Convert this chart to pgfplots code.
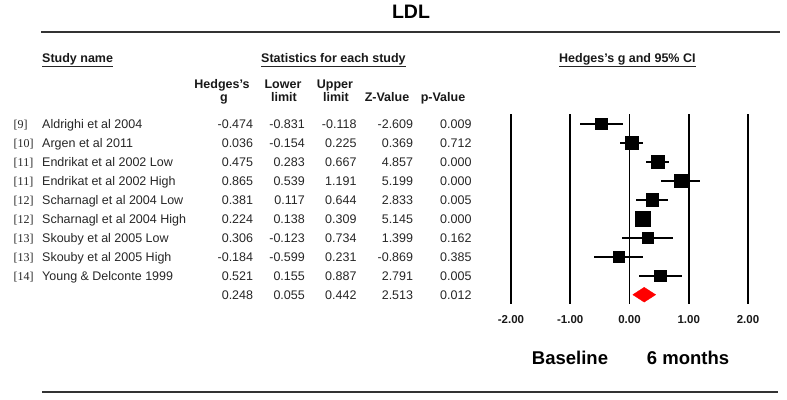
\documentclass[border=0pt]{standalone}
\usepackage{fontspec}
\setmainfont{Liberation Sans}
\newfontfamily\serif{Liberation Serif}
\usepackage{pgfplots}
\usepackage{pgfplotstable}
\pgfplotsset{compat=1.18}

% row  Hedges's g  lower  upper  half-side of the square (weight)
\pgfplotstableread{
row g lo hi sz
1 -0.474 -0.831 -0.118 5.8
2 0.036 -0.154 0.225 6.6
3 0.475 0.283 0.667 6.8
4 0.865 0.539 1.191 6.4
5 0.381 0.117 0.644 6.4
6 0.224 0.138 0.309 7.4
7 0.306 -0.123 0.734 5.8
8 -0.184 -0.599 0.231 5.8
9 0.521 0.155 0.887 5.8
}\studies

\tikzset{
  txt/.style={inner sep=0pt, font=\fontsize{12.5}{15}\selectfont, text=black!85},
  ref/.style={inner sep=0pt, anchor=base west, font=\serif\fontsize{12}{14}\selectfont, text=black!85},
  hdr/.style={inner sep=0pt, font=\bfseries\fontsize{12.5}{15}\selectfont, text=black!90},
}
\newcommand\trow[8]{%
  \pgfmathsetmacro\yb{399-(128.2+18.99*(#1-1))}%
  \node[ref] at (13.5,\yb) {#2};
  \node[txt, anchor=base west] at (42,\yb) {#3};
  \node[txt, anchor=base east] at (253.3,\yb) {#4};
  \node[txt, anchor=base east] at (305,\yb) {#5};
  \node[txt, anchor=base east] at (356.7,\yb) {#6};
  \node[txt, anchor=base east] at (413.3,\yb) {#7};
  \node[txt, anchor=base east] at (471.7,\yb) {#8};
}

\begin{document}
\begin{tikzpicture}[x=1pt,y=1pt]
\path[use as bounding box] (0,0) rectangle (787,399);

\begin{axis}[
  at={(511pt,94.8pt)}, anchor=south west,
  scale only axis, width=237pt, height=189.9pt,
  xmin=-2, xmax=2, ymin=0.5, ymax=10.5, y dir=reverse,
  clip=false,
  axis line style={draw=none},
  tick style={draw=none},
  major tick length=0pt,
  xtick={-2,-1,0,1,2},
  xticklabels={-2.00,-1.00,0.00,1.00,2.00},
  ytick=\empty,
  xmajorgrids,
  grid style={black, line width=1.8pt},
  xticklabel style={anchor=base, yshift=-19.1pt, inner sep=0pt,
    font=\bfseries\fontsize{11.5}{12}\selectfont, text=black!90},
]
\addplot[only marks, mark=none,
  error bars/.cd, x dir=both, x explicit, error mark=none,
  error bar style={black, line width=1.8pt}]
  table[x=g, y=row,
        x error plus expr=\thisrow{hi}-\thisrow{g},
        x error minus expr=\thisrow{g}-\thisrow{lo}] {\studies};
\addplot[scatter, only marks, mark=square*,
  scatter/use mapped color={draw=black, fill=black},
  mark options={line width=0.3pt},
  visualization depends on={\thisrow{sz} \as \msz},
  scatter/@pre marker code/.append style={/tikz/mark size=\msz}]
  table[x=g, y=row] {\studies};
\addplot[fill=red, draw=red, line width=0.3pt]
  coordinates {(0.055,10) (0.248,9.61) (0.442,10) (0.248,10.39) (0.055,10)};
\end{axis}

% title and rules
\node[inner sep=0pt, anchor=base, font=\bfseries\fontsize{19.5}{20}\selectfont] at (411,{399-18.5}) {LDL};
\draw[line width=1.8pt, black!80] (41,{399-32}) -- (780,{399-32});
\draw[line width=1.8pt, black!80] (42,{399-391.7}) -- (778,{399-391.7});

% group headers
\node[hdr, anchor=base west] (h1) at (42,{399-63}) {Study name};
\draw[line width=0.8pt, black!85] ([yshift=-3.6pt]h1.base west) -- ([yshift=-3.6pt]h1.base east);
\node[hdr, anchor=base west] (h2) at (261,{399-63}) {Statistics for each study};
\draw[line width=0.8pt, black!85] ([yshift=-3.6pt]h2.base west) -- ([yshift=-3.6pt]h2.base east);
\node[hdr, anchor=base west] (h3) at (559,{399-63}) {Hedges's g and 95\%\ CI};
\draw[line width=0.8pt, black!85] ([yshift=-3.6pt]h3.base west) -- ([yshift=-3.6pt]h3.base east);

% column headers
\node[hdr, anchor=base] at (222,{399-88.3}) {Hedges's};
\node[hdr, anchor=base] at (224,{399-102}) {g};
\node[hdr, anchor=base] at (283,{399-88.3}) {Lower};
\node[hdr, anchor=base] at (284,{399-102}) {limit};
\node[hdr, anchor=base] at (335,{399-88.3}) {Upper};
\node[hdr, anchor=base] at (336,{399-102}) {limit};
\node[hdr, anchor=base] at (387,{399-102}) {Z-Value};
\node[hdr, anchor=base] at (443,{399-102}) {p-Value};

% table rows
\trow{1}{[9]}{Aldrighi et al 2004}{-0.474}{-0.831}{-0.118}{-2.609}{0.009}
\trow{2}{[10]}{Argen et al 2011}{0.036}{-0.154}{0.225}{0.369}{0.712}
\trow{3}{[11]}{Endrikat et al 2002 Low}{0.475}{0.283}{0.667}{4.857}{0.000}
\trow{4}{[11]}{Endrikat et al 2002 High}{0.865}{0.539}{1.191}{5.199}{0.000}
\trow{5}{[12]}{Scharnagl et al 2004 Low}{0.381}{0.117}{0.644}{2.833}{0.005}
\trow{6}{[12]}{Scharnagl et al 2004 High}{0.224}{0.138}{0.309}{5.145}{0.000}
\trow{7}{[13]}{Skouby et al 2005 Low}{0.306}{-0.123}{0.734}{1.399}{0.162}
\trow{8}{[13]}{Skouby et al 2005 High}{-0.184}{-0.599}{0.231}{-0.869}{0.385}
\trow{9}{[14]}{Young \& Delconte 1999}{0.521}{0.155}{0.887}{2.791}{0.005}
\trow{10}{}{}{0.248}{0.055}{0.442}{2.513}{0.012}

% bottom labels
\node[inner sep=0pt, anchor=base, font=\bfseries\fontsize{18.5}{20}\selectfont] at (570,{399-364.3}) {Baseline};
\node[inner sep=0pt, anchor=base, font=\bfseries\fontsize{18.5}{20}\selectfont] at (688,{399-364.3}) {6 months};
\end{tikzpicture}
\end{document}
